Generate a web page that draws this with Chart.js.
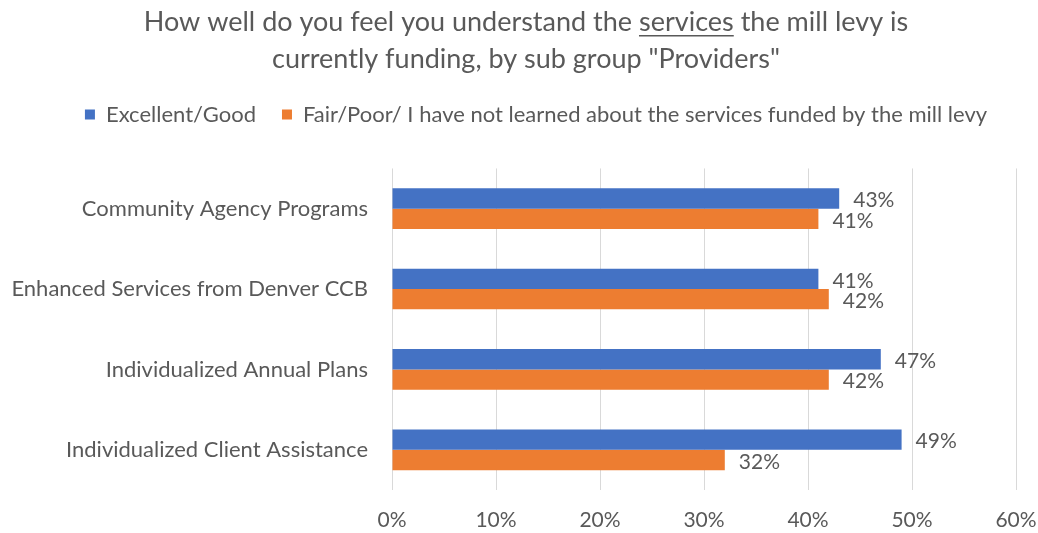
<!DOCTYPE html>
<html>
<head>
<meta charset="utf-8">
<script src="https://cdn.jsdelivr.net/npm/chart.js@4"></script>
<style>
  html, body { margin: 0; padding: 0; background: #fff; }
  #wrap { width: 1038px; height: 533px; }
</style>
</head>
<body>
<div id="wrap"><canvas id="chart"></canvas></div>
<script>
const categories = [
  "Community Agency Programs",
  "Enhanced Services from Denver CCB",
  "Individualized Annual Plans",
  "Individualized Client Assistance"
];
const excellentGood = [43, 41, 47, 49];
const fairPoor = [41, 42, 42, 32];
const seriesNames = [
  "Excellent/Good",
  "Fair/Poor/ I have not learned about the services funded by the mill levy"
];
const titleLines = [
  "How well do you feel you understand the services the mill levy is",
  "currently funding, by sub group \"Providers\""
];

const FONT = "Lato, 'Open Sans', sans-serif";
const GREY = "#595959";

// value labels at the end of each bar
const barLabels = {
  id: "barLabels",
  afterDatasetsDraw(chart) {
    const ctx = chart.ctx;
    ctx.save();
    ctx.font = "21px " + FONT;
    ctx.fillStyle = GREY;
    ctx.textAlign = "left";
    ctx.textBaseline = "middle";
    chart.data.datasets.forEach((ds, i) => {
      chart.getDatasetMeta(i).data.forEach((bar, j) => {
        ctx.fillText(ds.data[j] + "%", bar.x + 14, bar.y + 2);
      });
    });
    ctx.restore();
  }
};

// underline the word "services" in the first title line
const titleUnderline = {
  id: "titleUnderline",
  afterDraw(chart) {
    const tb = chart.titleBlock;
    if (!tb) return;
    const ctx = chart.ctx;
    const opts = tb.options;
    ctx.save();
    ctx.font = opts.font.size + "px " + FONT;
    const line = titleLines[0];
    const full = ctx.measureText(line).width;
    const word = "services";
    const pre = ctx.measureText(line.slice(0, line.indexOf(word))).width;
    const w = ctx.measureText(word).width;
    const cx = (tb.left + tb.right) / 2;
    const x0 = cx - full / 2 + pre;
    const lh = opts.font.size * opts.font.lineHeight;
    const y = tb.top + opts.padding.top + lh / 2 + opts.font.size * 0.5;
    ctx.strokeStyle = GREY;
    ctx.lineWidth = 1.5;
    ctx.beginPath();
    ctx.moveTo(x0, y);
    ctx.lineTo(x0 + w, y);
    ctx.stroke();
    ctx.restore();
  }
};

// extra room under the legend, and title/legend centred a bit right of the plot centre
const headerLayout = {
  id: "headerLayout",
  beforeInit(chart) {
    const fit = chart.legend.fit;
    chart.legend.fit = function () {
      fit.bind(chart.legend)();
      this.height += 33;
    };
  },
  afterLayout(chart) {
    chart.titleBlock.left += 36;
    chart.legend.left += 28;
    chart.legend.right += 28;
  }
};

new Chart(document.getElementById("chart"), {
  type: "bar",
  data: {
    labels: categories,
    datasets: [
      { label: seriesNames[0], data: excellentGood, backgroundColor: "#4472C4" },
      { label: seriesNames[1], data: fairPoor, backgroundColor: "#ED7D31" }
    ]
  },
  options: {
    indexAxis: "y",
    responsive: true,
    maintainAspectRatio: false,
    animation: false,
    categoryPercentage: 0.506,
    barPercentage: 1.0,
    layout: { padding: { left: 0, right: 22, top: 4, bottom: 0 } },
    plugins: {
      title: {
        display: true,
        text: titleLines,
        color: GREY,
        font: { family: FONT, size: 27, weight: "normal", lineHeight: 1.36 },
        padding: { top: 0, bottom: 0 }
      },
      legend: {
        position: "top",
        labels: {
          color: GREY,
          font: { family: FONT, size: 22 },
          boxWidth: 10,
          boxHeight: 10,
          padding: 26
        }
      },
      tooltip: { enabled: false }
    },
    scales: {
      x: {
        min: 0,
        max: 60,
        ticks: {
          stepSize: 10,
          color: GREY,
          font: { family: FONT, size: 21 },
          padding: 18,
          maxRotation: 0,
          callback: v => v + "%"
        },
        grid: { color: "#d9d9d9", drawTicks: false },
        border: { display: false },
        afterFit(scale) {
          scale.height = 43;
          scale.paddingLeft = 0;
          scale.paddingRight = 0;
        }
      },
      y: {
        ticks: {
          color: GREY,
          font: { family: FONT, size: 22 },
          padding: 16
        },
        grid: { display: false },
        border: { display: false },
        afterFit(scale) { scale.width = 392; }
      }
    }
  },
  plugins: [barLabels, titleUnderline, headerLayout]
});
</script>
</body>
</html>
